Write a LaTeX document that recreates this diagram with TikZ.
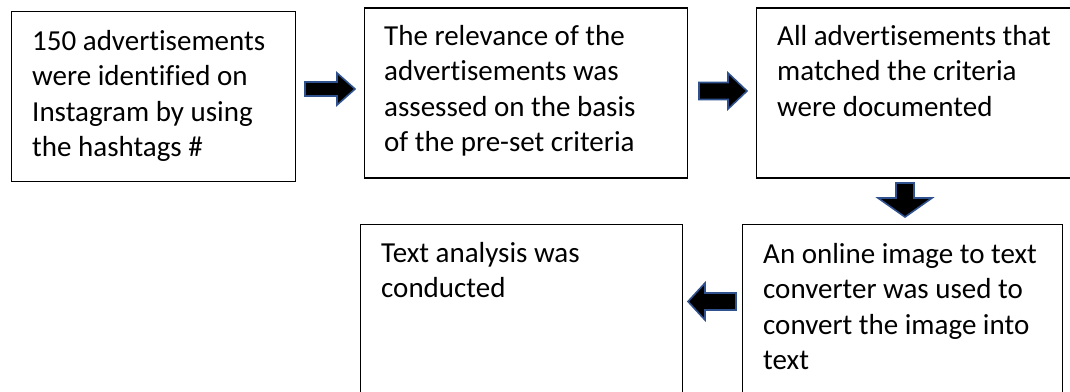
\documentclass[tikz,border=0pt]{standalone}
\usepackage{fontspec}
\setmainfont{Carlito}[Ligatures={NoCommon}]
\usetikzlibrary{calc}
\definecolor{arrowblue}{HTML}{2F528F}
\begin{document}
\begin{tikzpicture}[x=1pt,y=-1pt,
  box/.style={draw=black, line width=1.4pt, rectangle, inner sep=0pt, anchor=north west},
  txt/.style={anchor=base west, inner sep=0pt, font=\fontsize{29pt}{35.5pt}\selectfont},
  blk/.style={fill=black, draw=arrowblue, line width=1.6pt, line join=miter}]
\useasboundingbox (0,0) rectangle (1070,391);
\fill[white] (0,0) rectangle (1070,391);
\clip (0,0) rectangle (1070,391);
% boxes
\node[box, minimum width=284pt, minimum height=170pt] (b1) at (10.7,11) {};
\node[box, minimum width=323pt, minimum height=170pt] (b2) at (364,7.3) {};
\node[box, minimum width=330pt, minimum height=170pt] (b3) at (756,7.3) {};
\node[box, minimum width=322pt, minimum height=180pt] (b4) at (360,224) {};
\node[box, minimum width=320pt, minimum height=180pt] (b5) at (742,224) {};
% texts
\node[txt] (t1) at (32,50) {\parbox[t]{262pt}{\raggedright\fontsize{29pt}{35.5pt}\selectfont 150 advertisements\\were identified on\\Instagram by using\\the hashtags \#}};
\node[txt] (t2) at (384,45) {\parbox[t]{300pt}{\raggedright\fontsize{29pt}{35.5pt}\selectfont The relevance of the\\advertisements was\\assessed on the basis\\of the pre-set criteria}};
\node[txt] (t3) at (777,45) {\parbox[t]{300pt}{\raggedright\fontsize{29pt}{35.5pt}\selectfont All advertisements that\\matched the criteria\\were documented}};
\node[txt] (t4) at (381,262) {\parbox[t]{300pt}{\raggedright\fontsize{29pt}{35.5pt}\selectfont Text analysis was\\conducted}};
\node[txt] (t5) at (763,263) {\parbox[t]{300pt}{\raggedright\fontsize{29pt}{35.5pt}\selectfont An online image to text\\converter was used to\\convert the image into\\text}};
% block arrows
\coordinate (a1) at (305,89);
\draw[blk] (a1) ++(0,-7) -- ++(32,0) -- ++(0,-9) -- ++(18,16) -- ++(-18,16) -- ++(0,-9) -- ++(-32,0) -- cycle;
\coordinate (a2) at (699,91);
\draw[blk] (a2) ++(0,-8.5) -- ++(29,0) -- ++(0,-9.5) -- ++(19,18) -- ++(-19,18) -- ++(0,-9.5) -- ++(-29,0) -- cycle;
\coordinate (a3) at (905,183);
\draw[blk] (a3) ++(-9,0) -- ++(0,15) -- ++(-18,0) -- ++(27,19) -- ++(27,-19) -- ++(-18,0) -- ++(0,-15) -- cycle;
\coordinate (a4) at (736,301.5);
\draw[blk] (a4) ++(0,-8.5) -- ++(-31,0) -- ++(0,-10) -- ++(-17,18.5) -- ++(17,18.5) -- ++(0,-10) -- ++(31,0) -- cycle;
\end{tikzpicture}
\end{document}
